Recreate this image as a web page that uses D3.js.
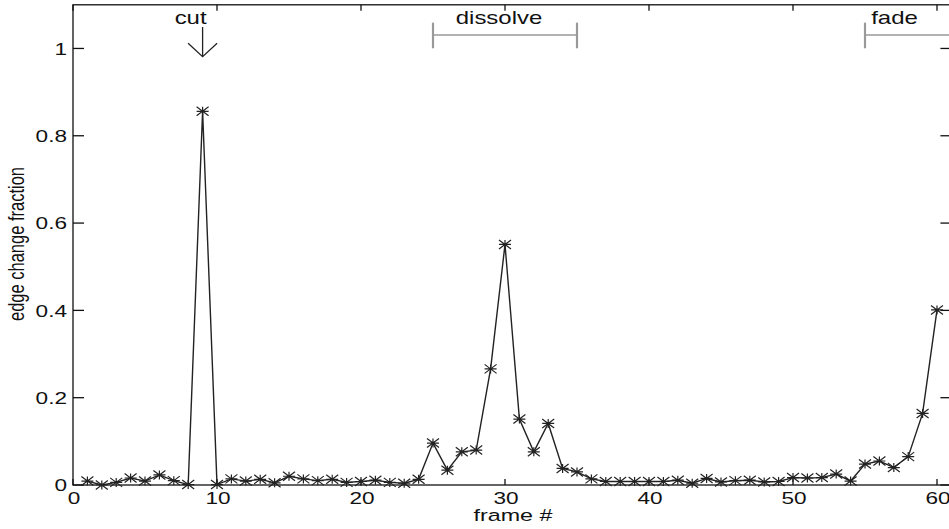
<!DOCTYPE html>
<html>
<head>
<meta charset="utf-8">
<script src="https://cdn.jsdelivr.net/npm/d3@7"></script>
<style>
html, body { margin: 0; padding: 0; background: #fff; }
svg { display: block; }
text { font-family: "Liberation Sans", Arial, Helvetica, sans-serif; fill: #111; }
</style>
</head>
<body>
<svg id="chart" width="949" height="529"></svg>
<script>
// ---- data ----
const frames = [1,2,3,4,5,6,7,8,9,10,11,12,13,14,15,16,17,18,19,20,
                21,22,23,24,25,26,27,28,29,30,31,32,33,34,35,36,37,38,39,40,
                41,42,43,44,45,46,47,48,49,50,51,52,53,54,55,56,57,58,59,60];
const edgeChange = [0.009,0.000,0.006,0.016,0.009,0.023,0.010,0.001,0.856,0.001,
                    0.014,0.009,0.013,0.005,0.020,0.014,0.010,0.013,0.006,0.008,
                    0.011,0.006,0.004,0.013,0.096,0.034,0.076,0.080,0.266,0.551,
                    0.151,0.076,0.141,0.038,0.030,0.014,0.008,0.008,0.008,0.008,
                    0.008,0.011,0.004,0.015,0.007,0.010,0.011,0.007,0.008,0.017,
                    0.016,0.017,0.025,0.009,0.048,0.055,0.040,0.065,0.164,0.401];
const xTicks = [0,10,20,30,40,50,60];
const yTicks = [0,0.2,0.4,0.6,0.8,1];
const yTickLabels = ["0","0.2","0.4","0.6","0.8","1"];
const xLabel = "frame #";
const yLabel = "edge change fraction";
const cutFrame = 9;
const dissolveRange = [25, 35];
const fadeRange = [55, 65];

// ---- layout ----
const svg = d3.select("#chart");
const SX = 1.37; // horizontal stretch of the reference text
const pLeft = 73, pRight = 951.4, pTop = 4.8, pBottom = 485;
const x = d3.scaleLinear().domain([0, 61]).range([pLeft, pRight]);
const y = d3.scaleLinear().domain([0, 1.1]).range([pBottom, pTop]);

// frame box
svg.append("rect").attr("x", pLeft).attr("y", pTop)
  .attr("width", pRight - pLeft).attr("height", pBottom - pTop)
  .attr("fill", "none").attr("stroke", "#111").attr("stroke-width", 1.3);

// ticks (inward)
const tk = svg.append("g").attr("stroke", "#111").attr("stroke-width", 1.3);
xTicks.forEach(v => {
  tk.append("line").attr("x1", x(v)).attr("x2", x(v)).attr("y1", pBottom).attr("y2", pBottom - 6);
  tk.append("line").attr("x1", x(v)).attr("x2", x(v)).attr("y1", pTop).attr("y2", pTop + 6);
});
yTicks.forEach(v => {
  tk.append("line").attr("x1", pLeft).attr("x2", pLeft + 11).attr("y1", y(v)).attr("y2", y(v));
  tk.append("line").attr("x1", pRight).attr("x2", pRight - 11).attr("y1", y(v)).attr("y2", y(v));
});

function stretchedText(px, py, str, size, anchor) {
  return svg.append("text")
    .attr("transform", `translate(${px},${py}) scale(${SX},1)`)
    .attr("text-anchor", anchor)
    .attr("font-size", size)
    .text(str);
}

// tick labels
xTicks.forEach(v => stretchedText(x(v) + 1, 504, String(v), 16.5, "middle"));
yTicks.forEach((v, i) => stretchedText(67, y(v) + 6.3, yTickLabels[i], 16.5, "end"));

// axis labels
stretchedText(513, 521, xLabel, 17, "middle");
svg.append("text")
  .attr("transform", `translate(24,244) scale(${SX},1) rotate(-90)`)
  .attr("text-anchor", "middle").attr("font-size", 16.5)
  .text(yLabel);

// annotations
const cx = x(cutFrame);
stretchedText(cx - 12, 24, "cut", 17.5, "middle");
svg.append("line").attr("x1", cx).attr("x2", cx).attr("y1", 27).attr("y2", 56.5)
  .attr("stroke", "#222").attr("stroke-width", 1.3);
svg.append("path").attr("d", `M${cx - 14.5},43.3 L${cx},56.7 L${cx + 14.5},43.3`)
  .attr("fill", "none").attr("stroke", "#222").attr("stroke-width", 1.3);

function bracket(a, b) {
  const g = svg.append("g").attr("stroke", "#999");
  g.append("line").attr("x1", x(a)).attr("x2", x(b)).attr("y1", 35).attr("y2", 35).attr("stroke-width", 1.6);
  g.append("line").attr("x1", x(a)).attr("x2", x(a)).attr("y1", 22.7).attr("y2", 48.3).attr("stroke-width", 2.2);
  g.append("line").attr("x1", x(b)).attr("x2", x(b)).attr("y1", 22.7).attr("y2", 48.3).attr("stroke-width", 2.2);
}
bracket(dissolveRange[0], dissolveRange[1]);
stretchedText(499, 24, "dissolve", 17.5, "middle");
bracket(fadeRange[0], fadeRange[1]);
stretchedText(894.5, 24, "fade", 17.5, "middle");

// series line
const pts = frames.map((f, i) => [f, edgeChange[i]]);
svg.append("path").datum(pts)
  .attr("fill", "none").attr("stroke", "#222").attr("stroke-width", 1.4)
  .attr("d", d3.line().x(d => x(d[0])).y(d => y(d[1])));

// asterisk markers
const mh = 6, mv = 4.5;
const star = `M${-mh},0L${mh},0M0,${-mv}L0,${mv}M${-mh},${-mv}L${mh},${mv}M${-mh},${mv}L${mh},${-mv}`;
svg.append("g").selectAll("path").data(pts).join("path")
  .attr("transform", d => `translate(${x(d[0])},${y(d[1])})`)
  .attr("d", star).attr("fill", "none").attr("stroke", "#222").attr("stroke-width", 1.2);
</script>
</body>
</html>
